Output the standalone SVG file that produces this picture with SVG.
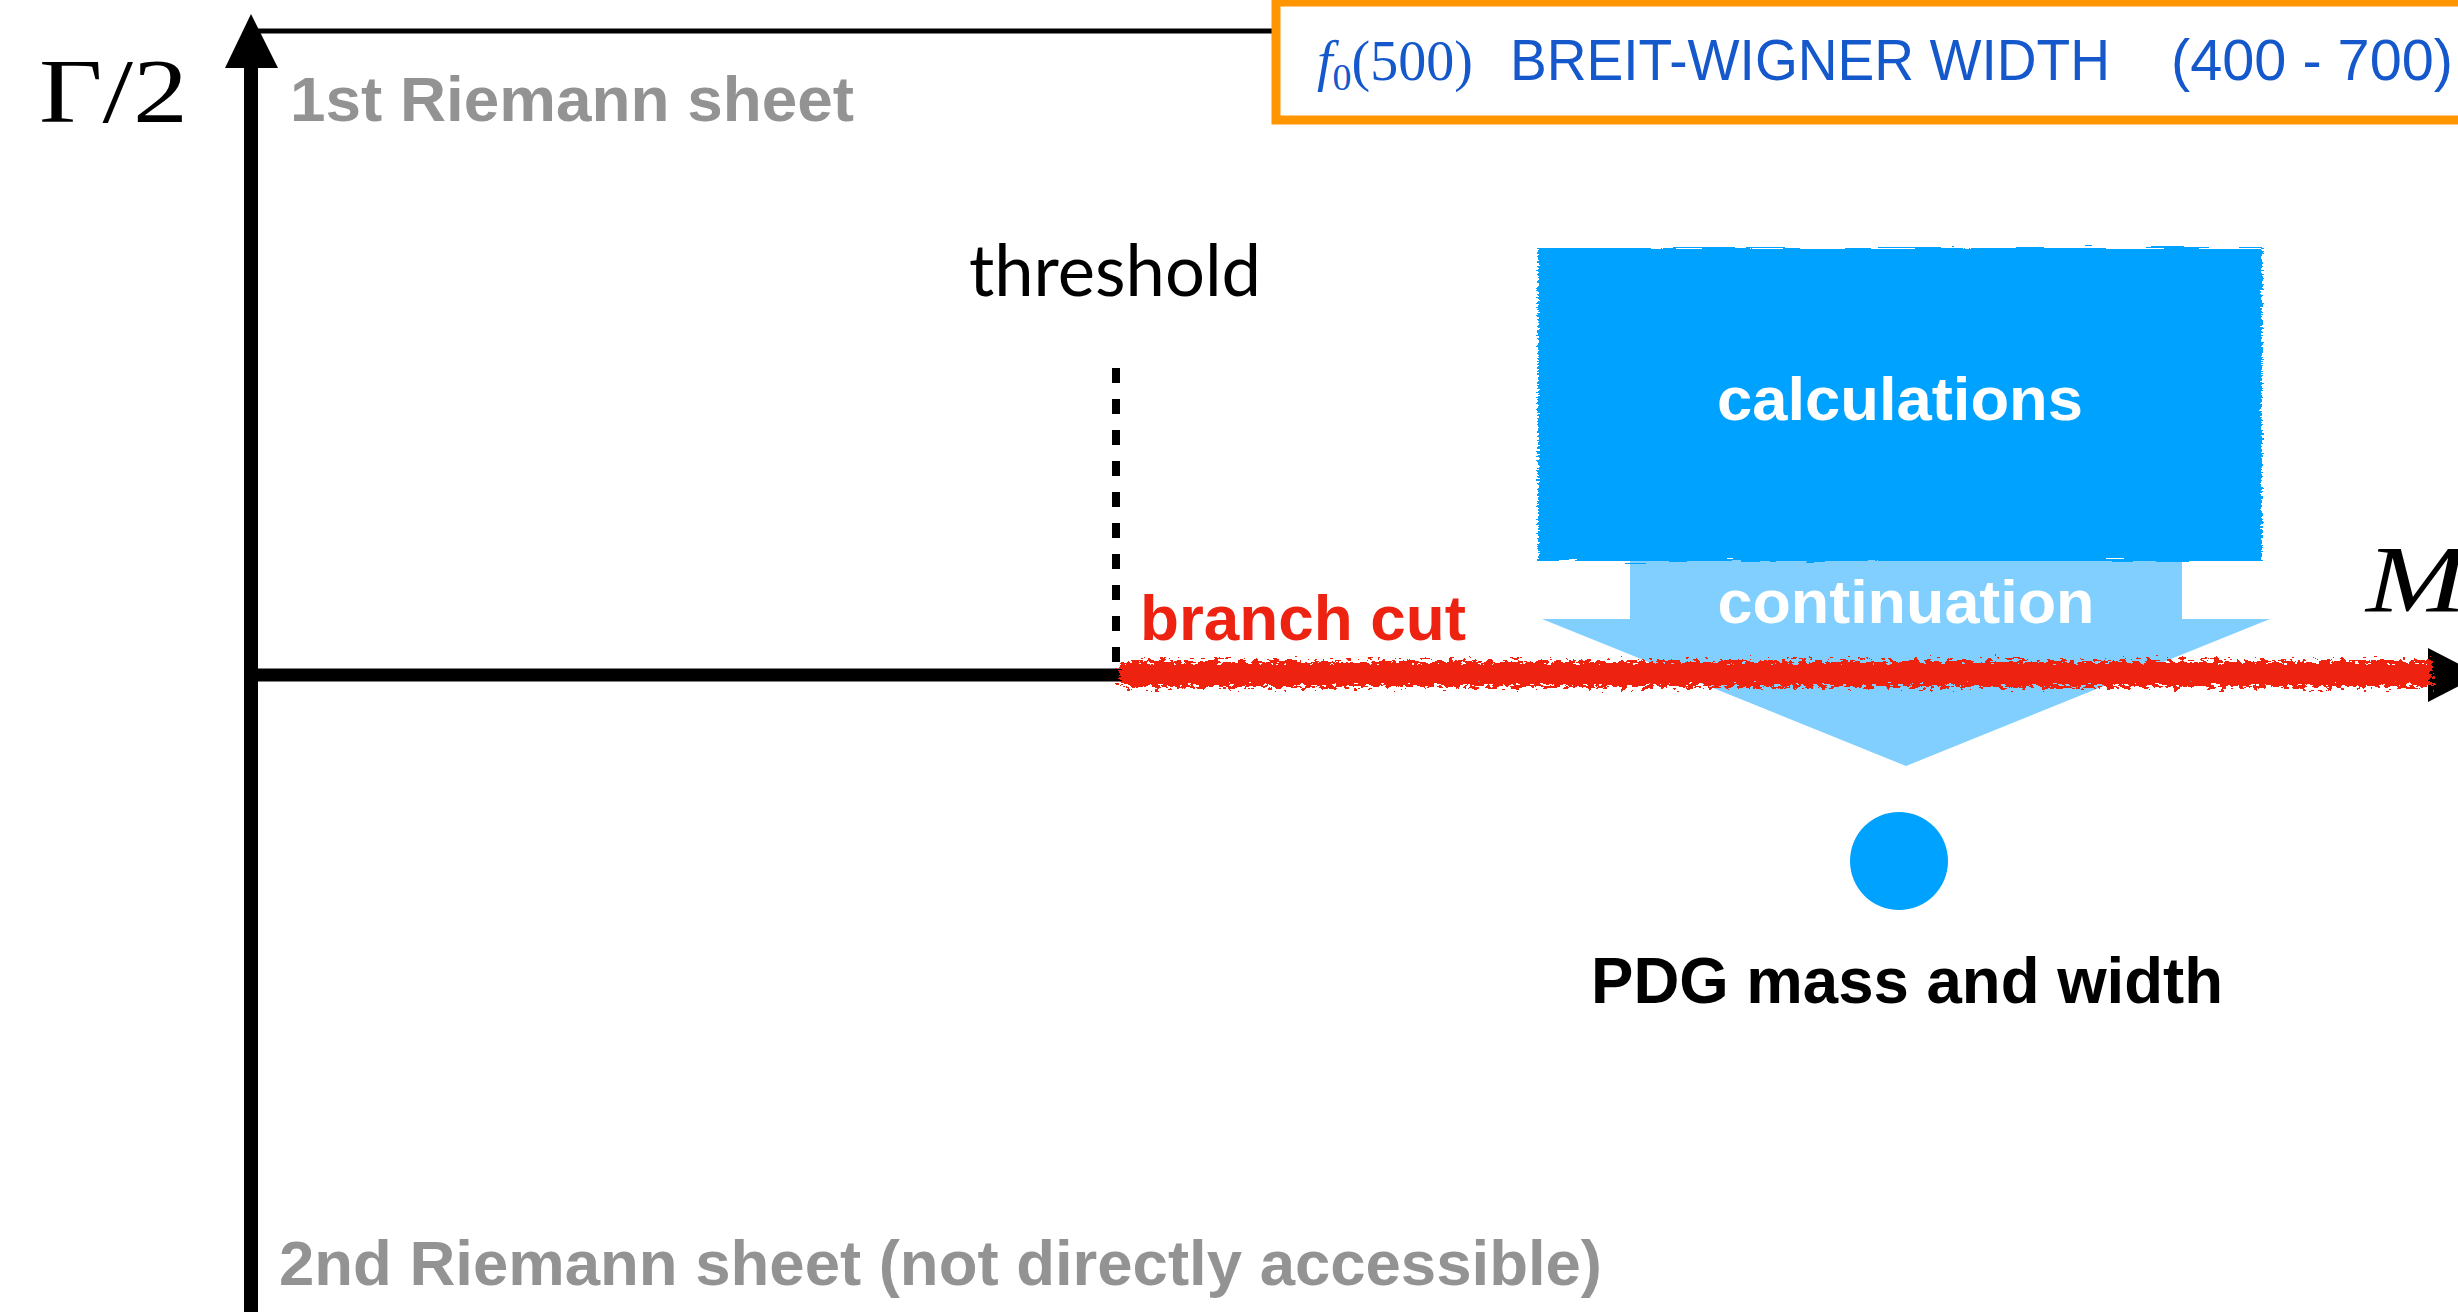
<svg xmlns="http://www.w3.org/2000/svg" width="2458" height="1312" viewBox="0 0 2458 1312">
<defs>
<style>
.sans{font-family:"Liberation Sans",Arial,Helvetica,sans-serif;font-weight:bold}
.serif{font-family:"Liberation Serif","Times New Roman",serif}
.gray{fill:#939393;font-size:63px}
.white{fill:#ffffff;font-size:62px}
.axis{stroke:#000;fill:none}
</style>
<filter id="rough" x="-5%" y="-5%" width="110%" height="110%">
<feTurbulence type="fractalNoise" baseFrequency="0.02 0.6" numOctaves="2" seed="3" result="n"/>
<feDisplacementMap in="SourceGraphic" in2="n" scale="8" xChannelSelector="R" yChannelSelector="G"/>
</filter>
<filter id="ragged" filterUnits="userSpaceOnUse" x="1100" y="640" width="1358" height="70">
<feTurbulence type="fractalNoise" baseFrequency="0.15 0.3" numOctaves="3" seed="7" result="n"/>
<feDisplacementMap in="SourceGraphic" in2="n" scale="18" xChannelSelector="R" yChannelSelector="G"/>
</filter>
</defs>
<rect width="2458" height="1312" fill="#ffffff"/>

<g id="connectors">
<line class="axis" x1="251" y1="60" x2="251" y2="1312" stroke-width="14"/>
<polygon points="251,14 225,68 278,68" fill="#000"/>
<line class="axis" x1="258" y1="31" x2="1272" y2="31" stroke-width="5"/>
<line class="axis" x1="244" y1="675" x2="2432" y2="675" stroke-width="13"/>
<polygon points="2428,648 2428,702 2480,675" fill="#000"/>
<line class="axis" x1="1116" y1="368" x2="1116" y2="670" stroke-width="8" stroke-dasharray="15 16"/>
</g>

<g id="continuation-arrow">
<polygon points="1630,560 2182,560 2182,619 2270,619 1906,766 1542,619 1630,619" fill="#80CFFF"/>
<text class="sans white" x="1906" y="623" text-anchor="middle" textLength="377" lengthAdjust="spacingAndGlyphs">continuation</text>
</g>

<g id="branch-cut">
<rect x="1120" y="661" width="1312" height="26" fill="#EE2211" filter="url(#ragged)"/>
<rect x="1122" y="665" width="1306" height="16" fill="#EE2211"/>
<text class="sans" x="1140" y="640" fill="#EE2211" font-size="63" textLength="326" lengthAdjust="spacingAndGlyphs">branch cut</text>
</g>

<g id="calculations">
<rect x="1538" y="248" width="724" height="313" fill="#00A2FF" filter="url(#rough)"/>
<text class="sans white" x="1900" y="420" text-anchor="middle" textLength="366" lengthAdjust="spacingAndGlyphs">calculations</text>
</g>

<g id="pdg-point">
<circle cx="1899" cy="861" r="49" fill="#00A2FF"/>
<text class="sans" x="1907" y="1003" text-anchor="middle" font-size="64" fill="#000" textLength="632" lengthAdjust="spacingAndGlyphs">PDG mass and width</text>
</g>

<g id="pdg-box">
<rect x="1276" y="2" width="1200" height="118" fill="#ffffff" stroke="#FF9500" stroke-width="9"/>
<text x="1317" y="80" fill="#1558CC" font-size="58">
<tspan class="serif" font-style="italic" font-size="56">f</tspan><tspan class="serif" font-size="38" dy="10">0</tspan><tspan class="serif" font-size="56" dy="-10">(500)</tspan>
</text>
<text class="sans" x="1510" y="80" fill="#1558CC" font-size="58" style="font-weight:normal" textLength="600" lengthAdjust="spacingAndGlyphs">BREIT-WIGNER WIDTH</text>
<text class="sans" x="2171" y="80" fill="#1558CC" font-size="58" style="font-weight:normal" textLength="282" lengthAdjust="spacingAndGlyphs">(400 - 700)</text>
</g>

<g id="labels">
<text class="serif" x="39" y="122" font-size="92" fill="#000" textLength="149" lengthAdjust="spacingAndGlyphs">Γ/2</text>
<text class="serif" x="2366" y="612" font-size="96" font-style="italic" fill="#000" textLength="100" lengthAdjust="spacingAndGlyphs">M</text>
<text class="sans gray" x="290" y="121" textLength="564" lengthAdjust="spacingAndGlyphs">1st Riemann sheet</text>
<text class="sans gray" x="279" y="1285" textLength="1323" lengthAdjust="spacingAndGlyphs">2nd Riemann sheet (not directly accessible)</text>
<text x="969" y="296" font-family="Lato, 'Open Sans', sans-serif" font-size="72" fill="#000" textLength="292" lengthAdjust="spacingAndGlyphs">threshold</text>
</g>
</svg>
